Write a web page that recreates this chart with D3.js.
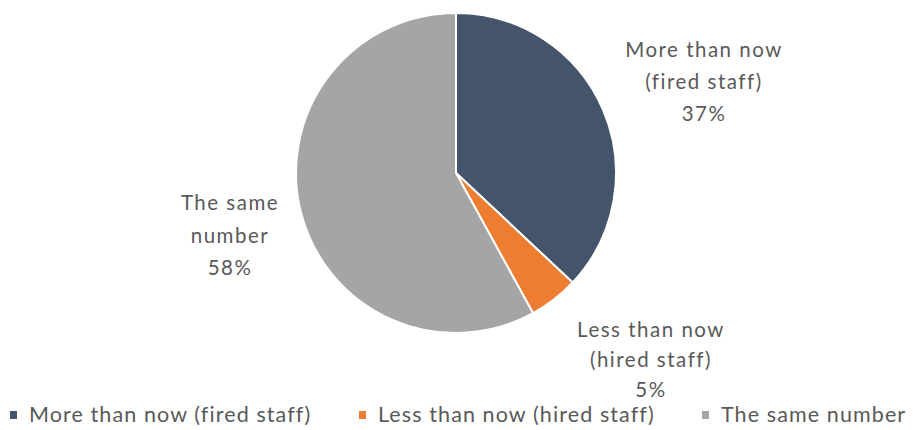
<!DOCTYPE html>
<html>
<head>
<meta charset="utf-8">
<script src="https://cdn.jsdelivr.net/npm/d3@7/dist/d3.min.js"></script>
<style>
  html, body { margin: 0; padding: 0; background: #ffffff; }
  svg { display: block; }
  text { font-family: Lato, "Open Sans", sans-serif; fill: #595959; }
</style>
</head>
<body>
<svg id="chart" width="915" height="430"></svg>
<script>
// Share of answers: how many staff the company would need
const categories = ["More than now (fired staff)", "Less than now (hired staff)", "The same number"];
const values = [37, 5, 58];
const labelLines = [
  ["More than now", "(fired staff)"],
  ["Less than now", "(hired staff)"],
  ["The same", "number"]
];
const colors = ["#44546A", "#ED7D31", "#A5A5A5"];

const cx = 456, cy = 173, R = 160;

const svg = d3.select("#chart");
const color = d3.scaleOrdinal().domain(categories).range(colors);

const data = categories.map((c, i) => ({ name: c, value: values[i], lines: labelLines[i] }));

const pie = d3.pie().value(d => d.value).sort(null);
const arc = d3.arc().innerRadius(0).outerRadius(R);
const arcs = pie(data);

const g = svg.append("g").attr("transform", `translate(${cx},${cy})`);
g.selectAll("path.slice")
  .data(arcs)
  .join("path")
  .attr("class", "slice")
  .attr("d", arc)
  .attr("fill", d => color(d.data.name))
  .attr("stroke", "#ffffff")
  .attr("stroke-width", 2)
  .attr("stroke-linejoin", "round");

// Data labels placed outside the slices
const labelPos = [
  { x: 704, y: 57, dy: 32 },
  { x: 651, y: 337, dy: 30 },
  { x: 230, y: 210, dy: 32.5 }
];
const fmt = d3.format(".0%");
arcs.forEach((a, i) => {
  const p = labelPos[i];
  const t = svg.append("text")
    .attr("text-anchor", "middle")
    .attr("font-size", 20.5)
    .attr("letter-spacing", 1.5);
  const lines = a.data.lines.concat([fmt(a.data.value / d3.sum(values))]);
  lines.forEach((ln, j) => {
    t.append("tspan").attr("x", p.x).attr("y", p.y + j * p.dy).text(ln);
  });
});

// Legend
const legendY = 422;
const legendX = [10, 359, 702];
const lg = svg.append("g");
categories.forEach((c, i) => {
  lg.append("rect")
    .attr("x", legendX[i])
    .attr("y", legendY - 11)
    .attr("width", 7)
    .attr("height", 8)
    .attr("fill", color(c));
  lg.append("text")
    .attr("x", legendX[i] + 19)
    .attr("y", legendY)
    .attr("font-size", 21.5)
    .attr("letter-spacing", 1.1)
    .text(c);
});
</script>
</body>
</html>
